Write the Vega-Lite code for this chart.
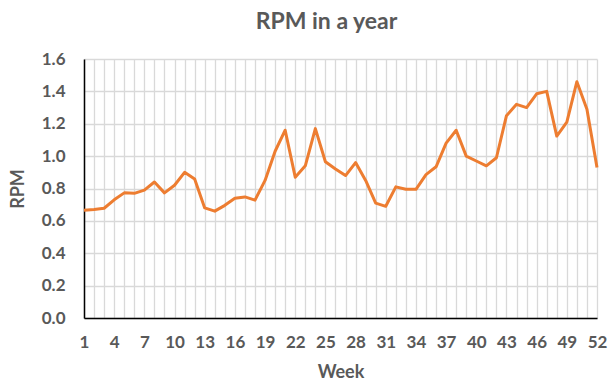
{
  "$schema": "https://vega.github.io/schema/vega-lite/v6.json",
  "width": 513,
  "height": 259,
  "autosize": {"type": "none"},
  "padding": {"left": 84, "top": 59, "right": 19, "bottom": 70},
  "background": "white",
  "title": {
    "text": "RPM in a year",
    "font": "Lato",
    "fontSize": 23,
    "fontWeight": "bold",
    "color": "#595959",
    "anchor": "middle",
    "dx": -14,
    "offset": 16
  },
  "config": {
    "view": {"stroke": null},
    "axis": {
      "labelFont": "Lato",
      "labelFontSize": 17,
      "labelFontWeight": "bold",
      "labelColor": "#595959",
      "titleFont": "Lato",
      "titleFontSize": 18,
      "titleFontWeight": "bold",
      "titleColor": "#595959",
      "gridColor": "#d9d9d9",
      "gridWidth": 1.3,
      "gridOpacity": 1,
      "domainColor": "#000000",
      "domainWidth": 1.5,
      "ticks": false
    }
  },
  "data": {
    "values": [
      {"Week": 1, "RPM": 0.665},
      {"Week": 2, "RPM": 0.67},
      {"Week": 3, "RPM": 0.678},
      {"Week": 4, "RPM": 0.73},
      {"Week": 5, "RPM": 0.773},
      {"Week": 6, "RPM": 0.77},
      {"Week": 7, "RPM": 0.79},
      {"Week": 8, "RPM": 0.84},
      {"Week": 9, "RPM": 0.773},
      {"Week": 10, "RPM": 0.82},
      {"Week": 11, "RPM": 0.9},
      {"Week": 12, "RPM": 0.858},
      {"Week": 13, "RPM": 0.68},
      {"Week": 14, "RPM": 0.66},
      {"Week": 15, "RPM": 0.696},
      {"Week": 16, "RPM": 0.74},
      {"Week": 17, "RPM": 0.748},
      {"Week": 18, "RPM": 0.728},
      {"Week": 19, "RPM": 0.85},
      {"Week": 20, "RPM": 1.03},
      {"Week": 21, "RPM": 1.16},
      {"Week": 22, "RPM": 0.87},
      {"Week": 23, "RPM": 0.94},
      {"Week": 24, "RPM": 1.17},
      {"Week": 25, "RPM": 0.965},
      {"Week": 26, "RPM": 0.92},
      {"Week": 27, "RPM": 0.88},
      {"Week": 28, "RPM": 0.96},
      {"Week": 29, "RPM": 0.85},
      {"Week": 30, "RPM": 0.71},
      {"Week": 31, "RPM": 0.69},
      {"Week": 32, "RPM": 0.81},
      {"Week": 33, "RPM": 0.795},
      {"Week": 34, "RPM": 0.795},
      {"Week": 35, "RPM": 0.886},
      {"Week": 36, "RPM": 0.934},
      {"Week": 37, "RPM": 1.08},
      {"Week": 38, "RPM": 1.16},
      {"Week": 39, "RPM": 1.0},
      {"Week": 40, "RPM": 0.97},
      {"Week": 41, "RPM": 0.94},
      {"Week": 42, "RPM": 0.99},
      {"Week": 43, "RPM": 1.25},
      {"Week": 44, "RPM": 1.32},
      {"Week": 45, "RPM": 1.3},
      {"Week": 46, "RPM": 1.385},
      {"Week": 47, "RPM": 1.4},
      {"Week": 48, "RPM": 1.124},
      {"Week": 49, "RPM": 1.21},
      {"Week": 50, "RPM": 1.46},
      {"Week": 51, "RPM": 1.29},
      {"Week": 52, "RPM": 0.93}
    ]
  },
  "mark": {"type": "line", "color": "#ED7D31", "strokeWidth": 3, "strokeJoin": "round"},
  "encoding": {
    "x": {
      "field": "Week",
      "type": "quantitative",
      "scale": {"domain": [1, 52], "nice": false, "zero": false},
      "axis": {
        "title": "Week",
        "titlePadding": 13,
        "labelPadding": 16,
        "labelOverlap": false,
        "labelFlush": false,
        "labelBound": false,
        "values": [1,2,3,4,5,6,7,8,9,10,11,12,13,14,15,16,17,18,19,20,21,22,23,24,25,26,27,28,29,30,31,32,33,34,35,36,37,38,39,40,41,42,43,44,45,46,47,48,49,50,51,52],
        "labelExpr": "(datum.value - 1) % 3 == 0 ? datum.label : ''"
      }
    },
    "y": {
      "field": "RPM",
      "type": "quantitative",
      "scale": {"domain": [0, 1.6], "nice": false},
      "axis": {
        "title": "RPM",
        "titlePadding": 14,
        "labelPadding": 19,
        "labelFlush": false,
        "values": [0, 0.2, 0.4, 0.6, 0.8, 1.0, 1.2, 1.4, 1.6],
        "format": ".1f"
      }
    }
  }
}
